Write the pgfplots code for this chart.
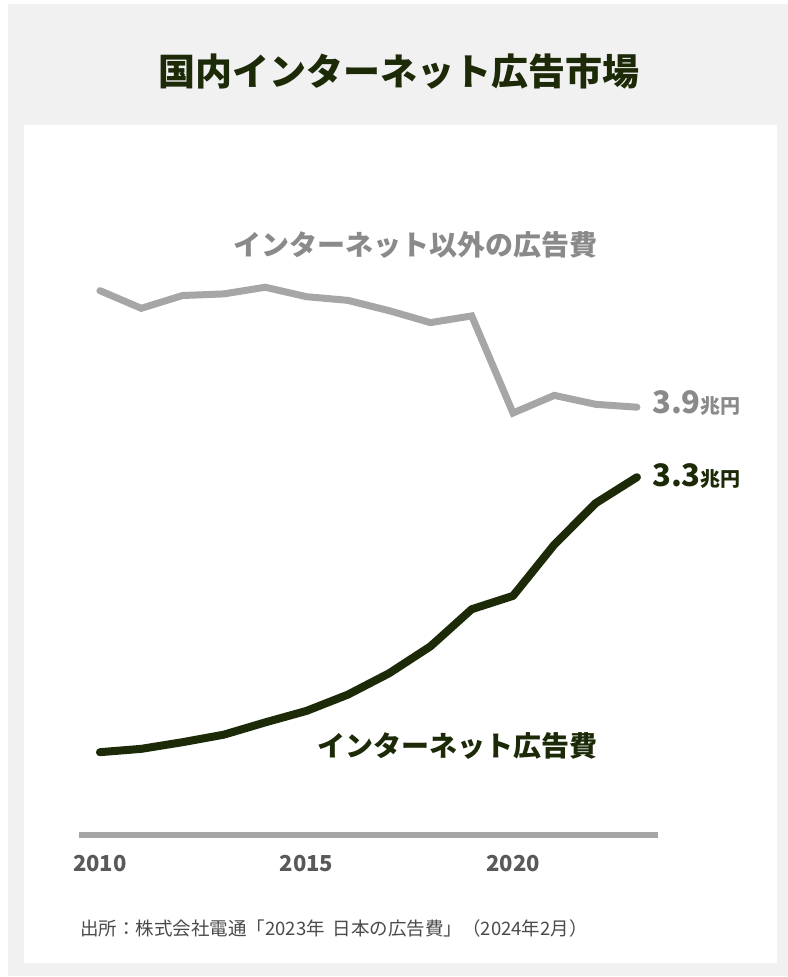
\documentclass[border=0pt]{standalone}
\usepackage{pgfplots}
\pgfplotsset{compat=1.18}
\usepackage{fontspec}
\setmainfont{Noto Sans CJK JP}

\definecolor{bggray}{HTML}{F1F1F1}
\definecolor{darkline}{HTML}{1C2A08}
\definecolor{lightline}{HTML}{A6A6A6}
\definecolor{lightlabel}{HTML}{8A8A8A}
\definecolor{tickgray}{HTML}{595959}
\definecolor{srcgray}{HTML}{4A4A4A}

\newcommand{\fs}[1]{\fontsize{#1bp}{#1bp}\selectfont}

% 国内広告費（兆円）
\pgfplotstableread{
year net
2010 0.775
2011 0.806
2012 0.868
2013 0.938
2014 1.052
2015 1.159
2016 1.310
2017 1.509
2018 1.759
2019 2.105
2020 2.229
2021 2.706
2022 3.091
2023 3.333
}\internet

\pgfplotstableread{
year other
2010 5.068
2011 4.904
2012 5.023
2013 5.038
2014 5.100
2015 5.012
2016 4.978
2017 4.882
2018 4.771
2019 4.833
2020 3.930
2021 4.094
2022 4.011
2023 3.984
}\others

\begin{document}
\begin{tikzpicture}[x=1bp,y=1bp]
\path[use as bounding box] (0,0) rectangle (788,977);
\fill[white] (0,0) rectangle (788,977);
\fill[bggray] (8,1) rectangle (788,973);
\fill[white] (24,14) rectangle (777,852);

\node[text=darkline, font=\fs{37}\bfseries] at (399,905) {国内インターネット広告市場};

\begin{axis}[
  at={(79.3bp,141.5bp)}, anchor=origin,
  scale only axis, width=578.3bp, height=645bp,
  xmin=2009.5, xmax=2023.5, ymin=0, ymax=6,
  axis x line=bottom, axis y line=none,
  x axis line style={-, line width=6bp, draw=lightline},
  xtick={2010,2015,2020}, xticklabels={2010,2015,2020},
  major tick length=0pt,
  xticklabel style={anchor=base, yshift=-36.5bp, text=tickgray, font=\fs{22}\bfseries},
  clip=false,
]
\addplot[lightline, line width=7bp, line cap=round, line join=miter, no marks] table[x=year, y=other] {\others};
\addplot[darkline, line width=8bp, line cap=round, line join=round, no marks] table[x=year, y=net] {\internet};
\end{axis}

\node[text=lightlabel, font=\fs{28}\bfseries] at (415,732) {インターネット以外の広告費};
\node[text=darkline, font=\fs{28}\bfseries] at (457,231) {インターネット広告費};

\node[anchor=base west, inner sep=0pt, text=lightlabel, font=\bfseries] at (652,563) {{\fs{31}3.9}{\fs{20}兆円}};
\node[anchor=base west, inner sep=0pt, text=darkline, font=\bfseries] at (652,490) {{\fs{31}3.3}{\fs{20}兆円}};

\node[anchor=west, inner sep=0pt, text=srcgray, font=\fs{18.5}] at (80,49) {出所：株式会社電通「2023年\hspace{4bp} 日本の広告費」（2024年2月）};
\end{tikzpicture}
\end{document}
